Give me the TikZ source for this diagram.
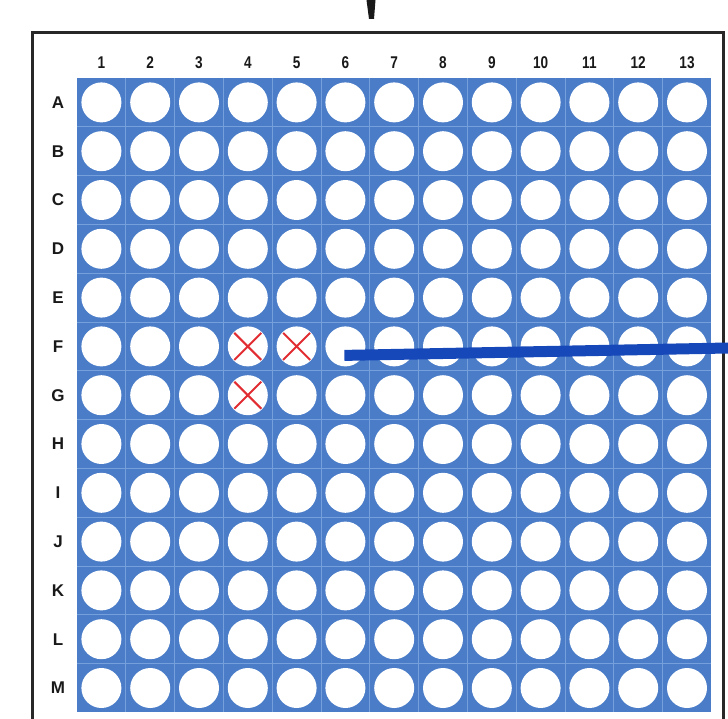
\documentclass[tikz,border=0pt]{standalone}
\usepackage{fontspec}
\setmainfont{Liberation Sans}
\usetikzlibrary{shapes.misc,calc}
\definecolor{plate}{RGB}{74,124,200}
\definecolor{gridl}{RGB}{118,160,220}
\definecolor{pointer}{RGB}{22,72,185}
\definecolor{framec}{RGB}{40,40,40}
\definecolor{crossc}{RGB}{225,45,50}
\begin{document}
\begin{tikzpicture}[x=1pt,y=-1pt,
  well/.style={circle,fill=white,minimum size=40pt,inner sep=0pt},
  lbl/.style={font=\fontsize{17}{17}\selectfont\bfseries,inner sep=0pt,text=black!90},
  gridline/.style={draw=gridl,line width=1pt},
  xmark/.style={cross out,draw=crossc,line width=2pt,minimum size=25pt,inner sep=0pt},
  pointerline/.style={draw=pointer,line width=11pt},
  framestyle/.style={draw=framec,line width=3pt}]
\useasboundingbox (0,0) rectangle (728,719);
\clip (0,0) rectangle (728,719);
% top marker
\fill[black!90] (366.5,0) -- (375.5,0) -- (374,19) -- (369,19) -- cycle;
% frame
\draw[framestyle] (32,730) -- (32,33) -- (723,33) -- (723,730);
% plate
\fill[plate] (77,78) rectangle (711.4,712.4);
\foreach \k in {1,...,12}{
  \draw[gridline] ({77+48.8*\k},78) -- ({77+48.8*\k},712.4);
  \draw[gridline] (77,{78+48.8*\k}) -- (711.4,{78+48.8*\k});
}
% wells
\foreach \r in {1,...,13}{
  \foreach \c in {1,...,13}{
    \node[well] (w-\r-\c) at ({77+48.8*(\c-0.5)},{78+48.8*(\r-0.5)}) {};
  }
}
% column labels
\foreach \c in {1,...,13}{
  \node[lbl,xscale=0.8] (col-\c) at ({77+48.8*(\c-0.5)},63) {\c};
}
% row labels
\foreach \r/\L in {1/A,2/B,3/C,4/D,5/E,6/F,7/G,8/H,9/I,10/J,11/K,12/L,13/M}{
  \node[lbl] (row-\r) at (58,{78+48.8*(\r-0.5)}) {\L};
}
% crosses
\node[xmark] (x1) at (w-6-4) {};
\node[xmark] (x2) at (w-6-5) {};
\node[xmark] (x3) at (w-7-4) {};
% pointer line
\coordinate (pend) at (728,348);
\draw[pointerline] ($(w-6-6.center)+(-1,9)$) -- (pend);
\end{tikzpicture}
\end{document}
